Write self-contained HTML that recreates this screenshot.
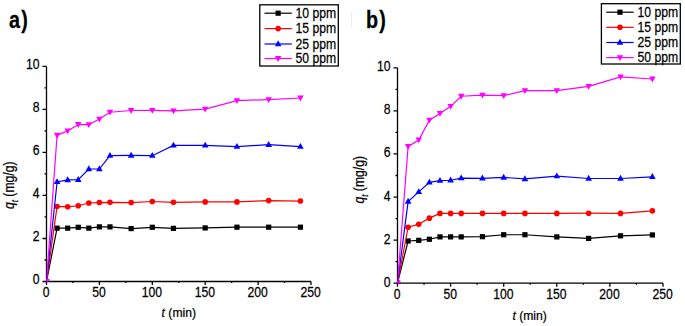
<!DOCTYPE html>
<html><head><meta charset="utf-8"><style>
html,body{margin:0;padding:0;background:#fff;}
svg{display:block;}
text{font-family:"Liberation Sans",sans-serif;fill:#000;stroke:#000;stroke-width:0.25px;}
</style></head><body>
<svg width="685" height="326" viewBox="0 0 685 326">
<rect width="685" height="326" fill="#fff"/>
<path d="M351.5 12V27" stroke="#ececec" stroke-width="1"/>
<clipPath id="ca"><rect x="46.50" y="56.40" width="274.50" height="225.10"/></clipPath>
<path d="M46.50 66.40V281.50H311.00M42.50 281.50H46.50M44.50 259.99H46.50M42.50 238.48H46.50M44.50 216.97H46.50M42.50 195.46H46.50M44.50 173.95H46.50M42.50 152.44H46.50M44.50 130.93H46.50M42.50 109.42H46.50M44.50 87.91H46.50M42.50 66.40H46.50M46.50 281.50V285.00M72.95 281.50V283.10M99.40 281.50V285.00M125.85 281.50V283.10M152.30 281.50V285.00M178.75 281.50V283.10M205.20 281.50V285.00M231.65 281.50V283.10M258.10 281.50V285.00M284.55 281.50V283.10M311.00 281.50V285.00" stroke="#000" stroke-width="1.3" fill="none"/>
<text transform="translate(39.60,283.90) scale(0.87,1)" text-anchor="end" font-size="14" >0</text>
<text transform="translate(39.60,240.88) scale(0.87,1)" text-anchor="end" font-size="14" >2</text>
<text transform="translate(39.60,197.86) scale(0.87,1)" text-anchor="end" font-size="14" >4</text>
<text transform="translate(39.60,154.84) scale(0.87,1)" text-anchor="end" font-size="14" >6</text>
<text transform="translate(39.60,111.82) scale(0.87,1)" text-anchor="end" font-size="14" >8</text>
<text transform="translate(39.60,68.80) scale(0.87,1)" text-anchor="end" font-size="14" >10</text>
<text transform="translate(46.10,296.70) scale(0.87,1)" text-anchor="middle" font-size="14" >0</text>
<text transform="translate(99.00,296.70) scale(0.87,1)" text-anchor="middle" font-size="14" >50</text>
<text transform="translate(151.90,296.70) scale(0.87,1)" text-anchor="middle" font-size="14" >100</text>
<text transform="translate(204.80,296.70) scale(0.87,1)" text-anchor="middle" font-size="14" >150</text>
<text transform="translate(257.70,296.70) scale(0.87,1)" text-anchor="middle" font-size="14" >200</text>
<text transform="translate(310.60,296.70) scale(0.87,1)" text-anchor="middle" font-size="14" >250</text>
<g clip-path="url(#ca)">
<polyline points="46.50,281.50 57.08,228.16 67.66,228.16 78.24,227.29 88.82,228.16 99.40,226.86 109.98,226.86 131.14,228.59 152.30,227.29 173.46,228.37 205.20,227.94 236.94,227.19 268.68,227.19 300.42,227.19" fill="none" stroke="#000000" stroke-width="1.2"/>
<rect x="43.90" y="278.90" width="5.20" height="5.20" fill="#000000"/>
<rect x="54.48" y="225.56" width="5.20" height="5.20" fill="#000000"/>
<rect x="65.06" y="225.56" width="5.20" height="5.20" fill="#000000"/>
<rect x="75.64" y="224.69" width="5.20" height="5.20" fill="#000000"/>
<rect x="86.22" y="225.56" width="5.20" height="5.20" fill="#000000"/>
<rect x="96.80" y="224.26" width="5.20" height="5.20" fill="#000000"/>
<rect x="107.38" y="224.26" width="5.20" height="5.20" fill="#000000"/>
<rect x="128.54" y="225.99" width="5.20" height="5.20" fill="#000000"/>
<rect x="149.70" y="224.69" width="5.20" height="5.20" fill="#000000"/>
<rect x="170.86" y="225.77" width="5.20" height="5.20" fill="#000000"/>
<rect x="202.60" y="225.34" width="5.20" height="5.20" fill="#000000"/>
<rect x="234.34" y="224.59" width="5.20" height="5.20" fill="#000000"/>
<rect x="266.08" y="224.59" width="5.20" height="5.20" fill="#000000"/>
<rect x="297.82" y="224.59" width="5.20" height="5.20" fill="#000000"/>
<polyline points="46.50,281.50 57.08,206.43 67.66,206.86 78.24,205.78 88.82,202.99 99.40,202.56 109.98,202.34 131.14,202.56 152.30,201.48 173.46,202.34 205.20,201.91 236.94,201.91 268.68,200.62 300.42,201.05" fill="none" stroke="#ff0000" stroke-width="1.2"/>
<circle cx="46.50" cy="281.50" r="2.80" fill="#ff0000"/>
<circle cx="57.08" cy="206.43" r="2.80" fill="#ff0000"/>
<circle cx="67.66" cy="206.86" r="2.80" fill="#ff0000"/>
<circle cx="78.24" cy="205.78" r="2.80" fill="#ff0000"/>
<circle cx="88.82" cy="202.99" r="2.80" fill="#ff0000"/>
<circle cx="99.40" cy="202.56" r="2.80" fill="#ff0000"/>
<circle cx="109.98" cy="202.34" r="2.80" fill="#ff0000"/>
<circle cx="131.14" cy="202.56" r="2.80" fill="#ff0000"/>
<circle cx="152.30" cy="201.48" r="2.80" fill="#ff0000"/>
<circle cx="173.46" cy="202.34" r="2.80" fill="#ff0000"/>
<circle cx="205.20" cy="201.91" r="2.80" fill="#ff0000"/>
<circle cx="236.94" cy="201.91" r="2.80" fill="#ff0000"/>
<circle cx="268.68" cy="200.62" r="2.80" fill="#ff0000"/>
<circle cx="300.42" cy="201.05" r="2.80" fill="#ff0000"/>
<polyline points="46.50,281.50 57.08,181.91 67.66,179.97 78.24,179.76 88.82,169.00 99.40,169.00 109.98,155.67 131.14,155.45 152.30,155.67 173.46,145.34 205.20,145.34 236.94,146.63 268.68,144.70 300.42,146.63" fill="none" stroke="#0000ff" stroke-width="1.2"/>
<path d="M43.20 283.70L49.80 283.70L46.50 277.80Z" fill="#0000ff"/>
<path d="M53.78 184.11L60.38 184.11L57.08 178.21Z" fill="#0000ff"/>
<path d="M64.36 182.17L70.96 182.17L67.66 176.27Z" fill="#0000ff"/>
<path d="M74.94 181.96L81.54 181.96L78.24 176.06Z" fill="#0000ff"/>
<path d="M85.52 171.20L92.12 171.20L88.82 165.30Z" fill="#0000ff"/>
<path d="M96.10 171.20L102.70 171.20L99.40 165.30Z" fill="#0000ff"/>
<path d="M106.68 157.87L113.28 157.87L109.98 151.97Z" fill="#0000ff"/>
<path d="M127.84 157.65L134.44 157.65L131.14 151.75Z" fill="#0000ff"/>
<path d="M149.00 157.87L155.60 157.87L152.30 151.97Z" fill="#0000ff"/>
<path d="M170.16 147.54L176.76 147.54L173.46 141.64Z" fill="#0000ff"/>
<path d="M201.90 147.54L208.50 147.54L205.20 141.64Z" fill="#0000ff"/>
<path d="M233.64 148.83L240.24 148.83L236.94 142.93Z" fill="#0000ff"/>
<path d="M265.38 146.90L271.98 146.90L268.68 141.00Z" fill="#0000ff"/>
<path d="M297.12 148.83L303.72 148.83L300.42 142.93Z" fill="#0000ff"/>
<polyline points="46.50,281.50 57.08,135.23 67.66,130.93 78.24,124.48 88.82,124.69 99.40,119.10 109.98,112.22 131.14,110.50 152.30,110.28 173.46,110.93 205.20,109.20 236.94,100.60 268.68,99.53 300.42,98.02" fill="none" stroke="#ff00ff" stroke-width="1.2"/>
<path d="M43.30 279.10L49.70 279.10L46.50 284.90Z" fill="#ff00ff"/>
<path d="M53.88 132.83L60.28 132.83L57.08 138.63Z" fill="#ff00ff"/>
<path d="M64.46 128.53L70.86 128.53L67.66 134.33Z" fill="#ff00ff"/>
<path d="M75.04 122.08L81.44 122.08L78.24 127.88Z" fill="#ff00ff"/>
<path d="M85.62 122.29L92.02 122.29L88.82 128.09Z" fill="#ff00ff"/>
<path d="M96.20 116.70L102.60 116.70L99.40 122.50Z" fill="#ff00ff"/>
<path d="M106.78 109.82L113.18 109.82L109.98 115.62Z" fill="#ff00ff"/>
<path d="M127.94 108.10L134.34 108.10L131.14 113.90Z" fill="#ff00ff"/>
<path d="M149.10 107.88L155.50 107.88L152.30 113.68Z" fill="#ff00ff"/>
<path d="M170.26 108.53L176.66 108.53L173.46 114.33Z" fill="#ff00ff"/>
<path d="M202.00 106.80L208.40 106.80L205.20 112.60Z" fill="#ff00ff"/>
<path d="M233.74 98.20L240.14 98.20L236.94 104.00Z" fill="#ff00ff"/>
<path d="M265.48 97.13L271.88 97.13L268.68 102.93Z" fill="#ff00ff"/>
<path d="M297.22 95.62L303.62 95.62L300.42 101.42Z" fill="#ff00ff"/>
</g>
<text transform="translate(9.0,27.6) scale(0.86,1)" font-size="23" font-weight="bold" letter-spacing="1.4">a)</text>
<rect x="259.8" y="4.8" width="78.5" height="61.2" fill="#fff" stroke="#000" stroke-width="1.3"/>
<path d="M264.5 13.2H291.8" stroke="#000000" stroke-width="1.2"/>
<rect x="275.55" y="10.60" width="5.20" height="5.20" fill="#000000"/>
<text transform="translate(295.60,17.80) scale(0.87,1)" text-anchor="start" font-size="14" >10 ppm</text>
<path d="M264.5 28.6H291.8" stroke="#ff0000" stroke-width="1.2"/>
<circle cx="278.15" cy="28.60" r="2.80" fill="#ff0000"/>
<text transform="translate(295.60,33.20) scale(0.87,1)" text-anchor="start" font-size="14" >15 ppm</text>
<path d="M264.5 44.0H291.8" stroke="#0000ff" stroke-width="1.2"/>
<path d="M274.85 46.20L281.45 46.20L278.15 40.30Z" fill="#0000ff"/>
<text transform="translate(295.60,48.60) scale(0.87,1)" text-anchor="start" font-size="14" >25 ppm</text>
<path d="M264.5 58.5H291.8" stroke="#ff00ff" stroke-width="1.2"/>
<path d="M274.95 56.10L281.35 56.10L278.15 61.90Z" fill="#ff00ff"/>
<text transform="translate(295.60,63.10) scale(0.87,1)" text-anchor="start" font-size="14" >50 ppm</text>
<text transform="translate(14.2,209.0) rotate(-90) scale(0.87,1)" font-size="14"><tspan font-style="italic">q</tspan><tspan font-style="italic" font-size="9" dy="3.3">t</tspan><tspan dy="-3.3"> (mg/g)</tspan></text>
<text transform="translate(161.6,317.0) scale(0.9,1)" font-size="13.5"><tspan font-style="italic">t</tspan> (min)</text>
<clipPath id="cb"><rect x="397.50" y="57.80" width="275.50" height="225.40"/></clipPath>
<path d="M397.50 67.80V283.20H663.00M393.50 283.20H397.50M395.50 261.66H397.50M393.50 240.12H397.50M395.50 218.58H397.50M393.50 197.04H397.50M395.50 175.50H397.50M393.50 153.96H397.50M395.50 132.42H397.50M393.50 110.88H397.50M395.50 89.34H397.50M393.50 67.80H397.50M397.50 283.20V286.70M424.05 283.20V284.80M450.60 283.20V286.70M477.15 283.20V284.80M503.70 283.20V286.70M530.25 283.20V284.80M556.80 283.20V286.70M583.35 283.20V284.80M609.90 283.20V286.70M636.45 283.20V284.80M663.00 283.20V286.70" stroke="#000" stroke-width="1.3" fill="none"/>
<text transform="translate(390.50,286.70) scale(0.87,1)" text-anchor="end" font-size="14" >0</text>
<text transform="translate(390.50,243.62) scale(0.87,1)" text-anchor="end" font-size="14" >2</text>
<text transform="translate(390.50,200.54) scale(0.87,1)" text-anchor="end" font-size="14" >4</text>
<text transform="translate(390.50,157.46) scale(0.87,1)" text-anchor="end" font-size="14" >6</text>
<text transform="translate(390.50,114.38) scale(0.87,1)" text-anchor="end" font-size="14" >8</text>
<text transform="translate(390.50,71.30) scale(0.87,1)" text-anchor="end" font-size="14" >10</text>
<text transform="translate(397.10,299.10) scale(0.87,1)" text-anchor="middle" font-size="14" >0</text>
<text transform="translate(450.20,299.10) scale(0.87,1)" text-anchor="middle" font-size="14" >50</text>
<text transform="translate(503.30,299.10) scale(0.87,1)" text-anchor="middle" font-size="14" >100</text>
<text transform="translate(556.40,299.10) scale(0.87,1)" text-anchor="middle" font-size="14" >150</text>
<text transform="translate(609.50,299.10) scale(0.87,1)" text-anchor="middle" font-size="14" >200</text>
<text transform="translate(662.60,299.10) scale(0.87,1)" text-anchor="middle" font-size="14" >250</text>
<g clip-path="url(#cb)">
<polyline points="397.50,283.20 408.12,240.98 418.74,240.34 429.36,239.26 439.98,236.89 450.60,236.89 461.22,236.89 482.46,236.67 503.70,234.73 524.94,234.73 556.80,236.89 588.66,238.40 620.52,235.81 652.38,234.95" fill="none" stroke="#000000" stroke-width="1.2"/>
<rect x="394.90" y="280.60" width="5.20" height="5.20" fill="#000000"/>
<rect x="405.52" y="238.38" width="5.20" height="5.20" fill="#000000"/>
<rect x="416.14" y="237.74" width="5.20" height="5.20" fill="#000000"/>
<rect x="426.76" y="236.66" width="5.20" height="5.20" fill="#000000"/>
<rect x="437.38" y="234.29" width="5.20" height="5.20" fill="#000000"/>
<rect x="448.00" y="234.29" width="5.20" height="5.20" fill="#000000"/>
<rect x="458.62" y="234.29" width="5.20" height="5.20" fill="#000000"/>
<rect x="479.86" y="234.07" width="5.20" height="5.20" fill="#000000"/>
<rect x="501.10" y="232.13" width="5.20" height="5.20" fill="#000000"/>
<rect x="522.34" y="232.13" width="5.20" height="5.20" fill="#000000"/>
<rect x="554.20" y="234.29" width="5.20" height="5.20" fill="#000000"/>
<rect x="586.06" y="235.80" width="5.20" height="5.20" fill="#000000"/>
<rect x="617.92" y="233.21" width="5.20" height="5.20" fill="#000000"/>
<rect x="649.78" y="232.35" width="5.20" height="5.20" fill="#000000"/>
<polyline points="397.50,283.20 408.12,227.20 418.74,224.18 429.36,218.15 439.98,213.41 450.60,213.41 461.22,213.41 482.46,213.41 503.70,213.41 524.94,213.41 556.80,213.41 588.66,213.19 620.52,213.41 652.38,210.83" fill="none" stroke="#ff0000" stroke-width="1.2"/>
<circle cx="397.50" cy="283.20" r="2.80" fill="#ff0000"/>
<circle cx="408.12" cy="227.20" r="2.80" fill="#ff0000"/>
<circle cx="418.74" cy="224.18" r="2.80" fill="#ff0000"/>
<circle cx="429.36" cy="218.15" r="2.80" fill="#ff0000"/>
<circle cx="439.98" cy="213.41" r="2.80" fill="#ff0000"/>
<circle cx="450.60" cy="213.41" r="2.80" fill="#ff0000"/>
<circle cx="461.22" cy="213.41" r="2.80" fill="#ff0000"/>
<circle cx="482.46" cy="213.41" r="2.80" fill="#ff0000"/>
<circle cx="503.70" cy="213.41" r="2.80" fill="#ff0000"/>
<circle cx="524.94" cy="213.41" r="2.80" fill="#ff0000"/>
<circle cx="556.80" cy="213.41" r="2.80" fill="#ff0000"/>
<circle cx="588.66" cy="213.19" r="2.80" fill="#ff0000"/>
<circle cx="620.52" cy="213.41" r="2.80" fill="#ff0000"/>
<circle cx="652.38" cy="210.83" r="2.80" fill="#ff0000"/>
<polyline points="397.50,283.20 408.12,201.56 418.74,191.87 429.36,182.39 439.98,180.67 450.60,180.24 461.22,178.08 482.46,178.30 503.70,177.44 524.94,178.95 556.80,176.15 588.66,178.52 620.52,178.52 652.38,176.79" fill="none" stroke="#0000ff" stroke-width="1.2"/>
<path d="M394.20 285.40L400.80 285.40L397.50 279.50Z" fill="#0000ff"/>
<path d="M404.82 203.76L411.42 203.76L408.12 197.86Z" fill="#0000ff"/>
<path d="M415.44 194.07L422.04 194.07L418.74 188.17Z" fill="#0000ff"/>
<path d="M426.06 184.59L432.66 184.59L429.36 178.69Z" fill="#0000ff"/>
<path d="M436.68 182.87L443.28 182.87L439.98 176.97Z" fill="#0000ff"/>
<path d="M447.30 182.44L453.90 182.44L450.60 176.54Z" fill="#0000ff"/>
<path d="M457.92 180.28L464.52 180.28L461.22 174.38Z" fill="#0000ff"/>
<path d="M479.16 180.50L485.76 180.50L482.46 174.60Z" fill="#0000ff"/>
<path d="M500.40 179.64L507.00 179.64L503.70 173.74Z" fill="#0000ff"/>
<path d="M521.64 181.15L528.24 181.15L524.94 175.25Z" fill="#0000ff"/>
<path d="M553.50 178.35L560.10 178.35L556.80 172.45Z" fill="#0000ff"/>
<path d="M585.36 180.72L591.96 180.72L588.66 174.82Z" fill="#0000ff"/>
<path d="M617.22 180.72L623.82 180.72L620.52 174.82Z" fill="#0000ff"/>
<path d="M649.08 178.99L655.68 178.99L652.38 173.09Z" fill="#0000ff"/>
<polyline points="397.50,283.20 408.12,146.42 418.74,139.96 429.36,120.14 439.98,113.46 450.60,106.36 461.22,96.23 482.46,95.16 503.70,95.59 524.94,90.63 556.80,90.63 588.66,86.32 620.52,76.85 652.38,79.00" fill="none" stroke="#ff00ff" stroke-width="1.2"/>
<path d="M394.30 280.80L400.70 280.80L397.50 286.60Z" fill="#ff00ff"/>
<path d="M404.92 144.02L411.32 144.02L408.12 149.82Z" fill="#ff00ff"/>
<path d="M415.54 137.56L421.94 137.56L418.74 143.36Z" fill="#ff00ff"/>
<path d="M426.16 117.74L432.56 117.74L429.36 123.54Z" fill="#ff00ff"/>
<path d="M436.78 111.06L443.18 111.06L439.98 116.86Z" fill="#ff00ff"/>
<path d="M447.40 103.96L453.80 103.96L450.60 109.76Z" fill="#ff00ff"/>
<path d="M458.02 93.83L464.42 93.83L461.22 99.63Z" fill="#ff00ff"/>
<path d="M479.26 92.76L485.66 92.76L482.46 98.56Z" fill="#ff00ff"/>
<path d="M500.50 93.19L506.90 93.19L503.70 98.99Z" fill="#ff00ff"/>
<path d="M521.74 88.23L528.14 88.23L524.94 94.03Z" fill="#ff00ff"/>
<path d="M553.60 88.23L560.00 88.23L556.80 94.03Z" fill="#ff00ff"/>
<path d="M585.46 83.92L591.86 83.92L588.66 89.72Z" fill="#ff00ff"/>
<path d="M617.32 74.45L623.72 74.45L620.52 80.25Z" fill="#ff00ff"/>
<path d="M649.18 76.60L655.58 76.60L652.38 82.40Z" fill="#ff00ff"/>
</g>
<text transform="translate(365.9,27.6) scale(0.86,1)" font-size="23" font-weight="bold" letter-spacing="1.4">b)</text>
<rect x="601.4" y="3.7" width="78.89999999999998" height="60.3" fill="#fff" stroke="#000" stroke-width="1.3"/>
<path d="M606.2 12.2H633.7" stroke="#000000" stroke-width="1.2"/>
<rect x="617.35" y="9.60" width="5.20" height="5.20" fill="#000000"/>
<text transform="translate(637.50,16.80) scale(0.87,1)" text-anchor="start" font-size="14" >10 ppm</text>
<path d="M606.2 27.3H633.7" stroke="#ff0000" stroke-width="1.2"/>
<circle cx="619.95" cy="27.30" r="2.80" fill="#ff0000"/>
<text transform="translate(637.50,31.90) scale(0.87,1)" text-anchor="start" font-size="14" >15 ppm</text>
<path d="M606.2 42.5H633.7" stroke="#0000ff" stroke-width="1.2"/>
<path d="M616.65 44.70L623.25 44.70L619.95 38.80Z" fill="#0000ff"/>
<text transform="translate(637.50,47.10) scale(0.87,1)" text-anchor="start" font-size="14" >25 ppm</text>
<path d="M606.2 57.6H633.7" stroke="#ff00ff" stroke-width="1.2"/>
<path d="M616.75 55.20L623.15 55.20L619.95 61.00Z" fill="#ff00ff"/>
<text transform="translate(637.50,62.20) scale(0.87,1)" text-anchor="start" font-size="14" >50 ppm</text>
<text transform="translate(364.4,203.5) rotate(-90) scale(0.87,1)" font-size="14"><tspan font-style="italic">q</tspan><tspan font-style="italic" font-size="9" dy="3.3">t</tspan><tspan dy="-3.3"> (mg/g)</tspan></text>
<text transform="translate(512.4,319.6) scale(0.9,1)" font-size="13.5"><tspan font-style="italic">t</tspan> (min)</text>
</svg>
</body></html>
